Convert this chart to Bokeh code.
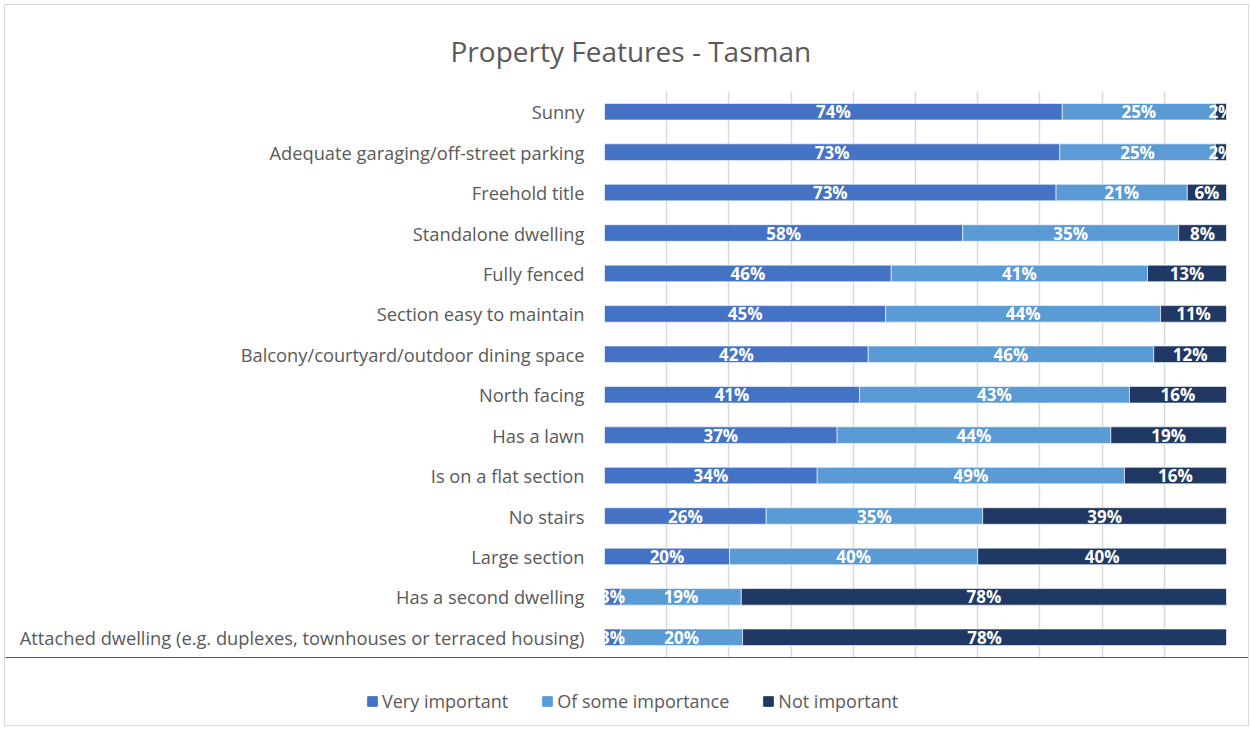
from bokeh.plotting import figure
from bokeh.layouts import column
from bokeh.models import ColumnDataSource, FactorRange, Legend, LegendItem, FixedTicker, LabelSet, Range1d
from bokeh.core.properties import value
from bokeh.embed import file_html
from bokeh.resources import INLINE

categories = [
    "Sunny",
    "Adequate garaging/off-street parking",
    "Freehold title",
    "Standalone dwelling",
    "Fully fenced",
    "Section easy to maintain",
    "Balcony/courtyard/outdoor dining space",
    "North facing",
    "Has a lawn",
    "Is on a flat section",
    "No stairs",
    "Large section",
    "Has a second dwelling",
    "Attached dwelling (e.g. duplexes, townhouses or terraced housing)",
]
very_important = [73.6, 73.2, 72.6, 57.6, 46.1, 45.2, 42.4, 41.0, 37.4, 34.2, 26.0, 20.1, 2.6, 2.6]
of_some_importance = [24.6, 25.0, 21.1, 34.7, 41.2, 44.2, 45.9, 43.4, 44.0, 49.4, 34.8, 39.9, 19.4, 19.6]
not_important = [1.8, 1.8, 6.3, 7.7, 12.7, 10.6, 11.7, 15.6, 18.6, 16.4, 39.2, 40.0, 78.0, 77.8]

series_names = ["Very important", "Of some importance", "Not important"]
colors = ["#4472C4", "#5B9BD5", "#203864"]
chart_title = "Property Features - Tasman"

FONT = "Open Sans"
GREY = "#595959"

p = figure(
    frame_width=622, frame_height=566,
    y_range=FactorRange(*list(reversed(categories))),
    x_range=(0, 100),
    output_backend="svg", toolbar_location=None,
    min_border_left=599, min_border_right=22, min_border_top=86, min_border_bottom=0,
    title=chart_title,
)

p.title.text_font = FONT
p.title.text_font_size = "28px"
p.title.text_font_style = "normal"
p.title.text_color = GREY
p.title.align = "left"
p.title.offset = -154
p.title.standoff = 43

vals = [very_important, of_some_importance, not_important]
starts = [[0.0] * len(categories)]
for s in vals[:-1]:
    starts.append([a + b for a, b in zip(starts[-1], s)])

for name, color, v, st in zip(series_names, colors, vals, starts):
    src = ColumnDataSource(dict(
        cat=categories,
        left=st,
        right=[a + b for a, b in zip(st, v)],
        mid=[a + b / 2 for a, b in zip(st, v)],
        lab=[f"{round(b)}%" for b in v],
    ))
    p.hbar(y="cat", left="left", right="right", height=0.41, source=src,
           fill_color=color, line_color="white", line_width=0.6)
    p.add_layout(LabelSet(x="mid", y="cat", text="lab", source=src,
                          text_align="center", text_baseline="middle",
                          text_color="white", text_font=value(FONT),
                          text_font_style="bold", text_font_size="17px"))

p.xaxis.visible = False
p.xaxis.ticker = FixedTicker(ticks=list(range(0, 101, 10)))
p.xgrid.ticker = FixedTicker(ticks=list(range(0, 101, 10)))
p.xgrid.grid_line_color = "#d9d9d9"
p.xgrid.grid_line_width = 1.5
p.ygrid.visible = False

yax = p.yaxis[0]
yax.axis_line_color = None
yax.major_tick_line_color = None
yax.minor_tick_line_color = None
yax.major_label_text_font = FONT
yax.major_label_text_font_size = "18.3px"
yax.major_label_text_color = GREY
yax.major_label_standoff = 14

p.outline_line_color = None

# Legend strip below the chart (its own frame, so nothing is clipped)
lg = figure(
    width=1243, height=68, x_range=Range1d(0, 1), y_range=Range1d(0, 1),
    x_axis_type=None, y_axis_type=None,
    output_backend="svg", toolbar_location=None,
    min_border_left=0, min_border_right=0, min_border_top=0, min_border_bottom=0,
)
lg.outline_line_color = None
lg.xgrid.visible = False
lg.ygrid.visible = False

legend_x = 361
try:
    p.frame_align = False
    lg.frame_align = False
except Exception:
    legend_x = 361 - 599

items = []
for name, color in zip(series_names, colors):
    # off-screen swatch source so the legend has a glyph to draw
    r = lg.hbar(y=[5], left=[0], right=[1], height=0.4, fill_color=color, line_color=color)
    items.append(LegendItem(label=name, renderers=[r]))

legend = Legend(
    items=items,
    orientation="horizontal", location=(legend_x, 12),
    label_text_font=FONT, label_text_font_size="18px", label_text_color=GREY,
    glyph_width=12, glyph_height=12, spacing=33, label_standoff=4,
    border_line_color=None, background_fill_alpha=0, margin=0, padding=0,
)
lg.add_layout(legend, "center")

layout = column(p, lg, spacing=0)
layout.styles = {"border": "1px solid #d9d9d9", "margin": "4px 0 0 4px"}

open("out.html", "w").write(file_html(layout, INLINE))
